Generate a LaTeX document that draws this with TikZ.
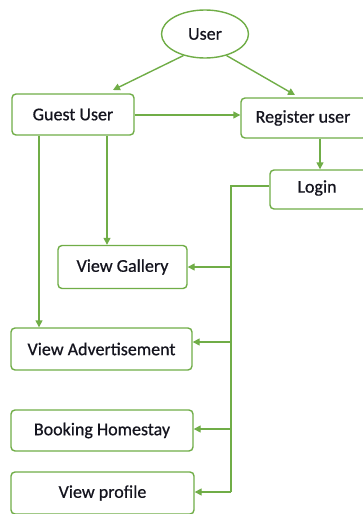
\documentclass[tikz,border=0pt]{standalone}
\usepackage{fontspec}
\setmainfont{Carlito}[FakeBold=0.6]
\usetikzlibrary{shapes.geometric,arrows.meta}
\definecolor{grn}{RGB}{112,173,71}
\definecolor{txt}{RGB}{20,20,30}
\tikzset{
  lbl/.style={text=txt, font=\fontsize{18}{20}\selectfont},
  box/.style={draw=grn, line width=1.4pt, rounded corners=4pt, fill=white, inner sep=0pt, lbl},
  oval/.style={draw=grn, line width=1.4pt, ellipse, inner sep=0pt, lbl},
  conn/.style={draw=grn, line width=1.4pt, -{Triangle[length=7pt,width=7pt]}},
  wire/.style={draw=grn, line width=1.4pt}
}
\begin{document}
\begin{tikzpicture}[x=1pt,y=-1pt]
\useasboundingbox (0,0) rectangle (363,514);
\clip (0,0) rectangle (363,514);
\node[oval, minimum width=87pt, minimum height=48pt] (user) at (205,34) {User};
\node[box, minimum width=122pt, minimum height=41pt] (guest) at (73,114.5) {Guest User};
\node[box, minimum width=126pt, minimum height=40pt] (reg) at (304,118) {};
\node[lbl] (regt) at (303,118) {Register user};
\node[box, minimum width=100pt, minimum height=39pt] (login) at (320,189.5) {};
\node[lbl] (logint) at (317,188) {Login};
\node[box, minimum width=129pt, minimum height=43pt] (gal) at (122.5,267) {View Gallery};
\node[box, minimum width=181pt, minimum height=42pt] (adv) at (101.5,349) {View Advertisement};
\node[box, minimum width=182pt, minimum height=41pt] (book) at (102,430.5) {Booking Homestay};
\node[box, minimum width=183pt, minimum height=42pt] (prof) at (102.5,493) {View profile};
\coordinate (j0) at (231,186);
\coordinate (jb) at (231,492);
\draw[conn] (user.225) -- (113,90) coordinate (ga);
\draw[conn] (user.-45) -- (295,95) coordinate (ra);
\draw[conn] (guest.east |- 0,115) -- (reg.west |- 0,115);
\draw[conn] (reg.south -| 320,0) -- (login.north -| 320,0);
\draw[wire] (login.west |- j0) -- (j0) -- (jb);
\draw[conn] (guest.south -| 107,0) -- (gal.north -| 107,0);
\draw[conn] (guest.south -| 39,0) -- (adv.north -| 39,0);
\draw[conn] (j0 |- gal.east) -- (gal.east);
\draw[conn] (231,342) coordinate (ja) -- (adv.east |- ja);
\draw[conn] (231,429) coordinate (jk) -- (book.east |- jk);
\draw[conn] (jb) -- (prof.east |- jb);
\end{tikzpicture}
\end{document}
